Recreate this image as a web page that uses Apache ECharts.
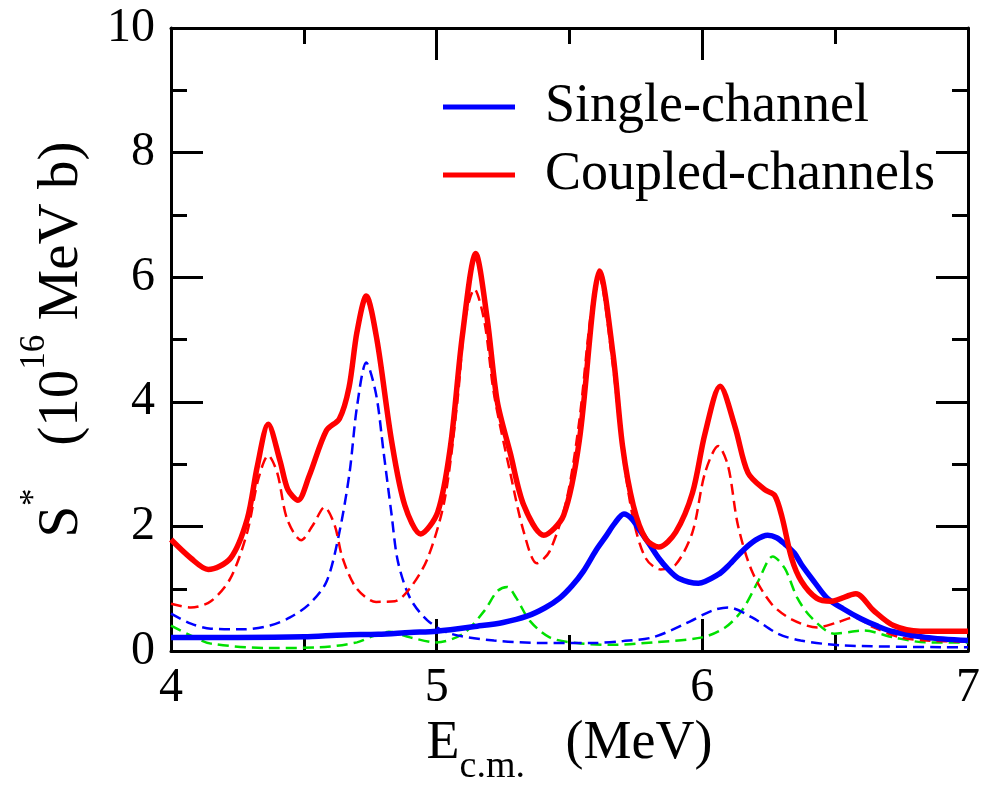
<!DOCTYPE html>
<html><head><meta charset="utf-8">
<script src="https://cdn.jsdelivr.net/npm/echarts@6/dist/echarts.min.js"></script>
<style>html,body{margin:0;padding:0;background:#fff}#c{width:983px;height:791px}</style>
</head><body><div id="c"></div>
<script>
const FONT = "'Liberation Serif','Times New Roman',serif";

const xTicks = [4, 5, 6, 7];
const yTicks = [0, 2, 4, 6, 8, 10];

// Single-channel (solid blue)
const singleChannel = [[4.0,0.22],[4.25,0.22],[4.5,0.23],[4.65,0.26],[4.78,0.27],[4.90,0.30],[5.0,0.32],[5.153,0.40],[5.25,0.46],[5.34,0.56],[5.41,0.70],[5.463,0.85],[5.51,1.05],[5.552,1.28],[5.60,1.62],[5.638,1.85],[5.67,2.05],[5.705,2.20],[5.735,2.12],[5.761,1.96],[5.80,1.72],[5.836,1.49],[5.87,1.32],[5.91,1.17],[5.985,1.09],[6.06,1.23],[6.10,1.38],[6.149,1.60],[6.20,1.78],[6.246,1.86],[6.28,1.82],[6.31,1.72],[6.347,1.57],[6.373,1.39],[6.42,1.12],[6.47,0.85],[6.53,0.68],[6.597,0.52],[6.66,0.40],[6.72,0.31],[6.84,0.22],[7.0,0.17]];

// Coupled-channels (solid red)
const coupledChannels = [[4.00,1.79],[4.075,1.49],[4.14,1.31],[4.224,1.49],[4.287,2.12],[4.325,2.97],[4.366,3.64],[4.41,3.06],[4.44,2.59],[4.478,2.42],[4.52,2.81],[4.585,3.54],[4.634,3.73],[4.67,4.23],[4.70,5.12],[4.735,5.70],[4.775,5.0],[4.83,3.38],[4.88,2.34],[4.94,1.88],[5.004,2.23],[5.052,3.29],[5.097,5.07],[5.147,6.38],[5.19,5.34],[5.228,4.01],[5.277,3.18],[5.328,2.34],[5.403,1.86],[5.478,2.18],[5.537,3.38],[5.59,5.59],[5.612,6.10],[5.664,4.76],[5.70,3.28],[5.74,2.34],[5.787,1.80],[5.836,1.67],[5.90,1.91],[5.963,2.54],[6.01,3.49],[6.067,4.25],[6.123,3.60],[6.172,2.86],[6.235,2.59],[6.272,2.50],[6.30,2.15],[6.336,1.49],[6.373,1.12],[6.43,0.85],[6.485,0.80],[6.578,0.92],[6.645,0.65],[6.72,0.41],[6.82,0.32],[7.0,0.32]];

// Coupled-channels components (dashed)
const coupledRed = [[4.0,0.76],[4.075,0.70],[4.15,0.80],[4.224,1.17],[4.287,1.91],[4.328,2.75],[4.366,3.14],[4.40,2.86],[4.437,2.12],[4.49,1.78],[4.534,2.02],[4.578,2.31],[4.616,2.02],[4.646,1.49],[4.698,1.01],[4.772,0.79],[4.843,0.80],[4.90,1.01],[4.966,1.49],[5.03,2.43],[5.078,4.01],[5.108,5.34],[5.142,5.81],[5.18,5.28],[5.216,4.12],[5.277,2.86],[5.328,1.91],[5.377,1.41],[5.425,1.60],[5.489,2.43],[5.537,3.70],[5.58,5.40],[5.61,6.02],[5.66,4.70],[5.70,3.20],[5.74,2.12],[5.787,1.49],[5.843,1.31],[5.90,1.39],[5.963,1.91],[6.01,2.86],[6.06,3.29],[6.097,2.97],[6.134,2.02],[6.187,1.28],[6.26,0.76],[6.336,0.51],[6.433,0.38],[6.508,0.46],[6.571,0.54],[6.645,0.38],[6.746,0.22],[6.843,0.17],[7.0,0.15]];
const coupledBlue = [[4.0,0.60],[4.075,0.44],[4.15,0.36],[4.27,0.35],[4.373,0.41],[4.448,0.54],[4.522,0.76],[4.586,1.12],[4.634,1.91],[4.672,2.86],[4.70,3.92],[4.735,4.63],[4.772,4.12],[4.80,3.20],[4.83,2.20],[4.854,1.44],[4.90,0.85],[4.966,0.49],[5.052,0.28],[5.216,0.17],[5.403,0.13],[5.59,0.13],[5.70,0.16],[5.813,0.22],[5.936,0.44],[6.037,0.65],[6.097,0.70],[6.187,0.54],[6.284,0.28],[6.37,0.17],[6.534,0.09],[7.0,0.06]];
const coupledGreen = [[4.0,0.41],[4.075,0.25],[4.15,0.12],[4.373,0.05],[4.56,0.06],[4.70,0.14],[4.76,0.24],[4.82,0.31],[4.90,0.22],[5.0,0.14],[5.10,0.28],[5.18,0.65],[5.228,0.96],[5.265,1.03],[5.30,0.85],[5.35,0.49],[5.425,0.22],[5.526,0.13],[5.65,0.10],[5.813,0.14],[6.0,0.22],[6.086,0.38],[6.149,0.65],[6.21,1.12],[6.265,1.52],[6.31,1.33],[6.358,0.85],[6.41,0.54],[6.496,0.28],[6.56,0.31],[6.608,0.33],[6.72,0.22],[6.843,0.14],[7.0,0.14]];

const chart = echarts.init(document.getElementById('c'), null, {renderer: 'canvas'});

function axisCommon(showLabel, isX) {
  return {
    type: 'value',
    axisLine: {show: true, onZero: false, lineStyle: {color: '#000', width: 3}},
    axisTick: {show: true, inside: true, length: 32, lineStyle: {color: '#000', width: 3}},
    minorTick: {show: true, splitNumber: 2, length: 16, lineStyle: {color: '#000', width: 3}},
    splitLine: {show: false},
    minorSplitLine: {show: false},
    axisLabel: {show: showLabel, color: '#000', fontFamily: FONT, fontSize: 48, margin: isX ? 13 : 16,
      formatter: v => (isX ? xTicks : yTicks).includes(v) ? String(v) : ''}
  };
}

const xMain = Object.assign(axisCommon(true, true), {min: 4, max: 7, interval: 1, position: 'bottom',
  name: '{m|E}{sub|c.m.}{m|   (MeV)}', nameLocation: 'middle', nameGap: 47,
  nameTextStyle: {rich: {
    m: {fontFamily: FONT, fontSize: 54, color: '#000', lineHeight: 84},
    sub: {fontFamily: FONT, fontSize: 38, color: '#000', verticalAlign: 'bottom', lineHeight: 38}
  }}});
const xTop = Object.assign(axisCommon(false, true), {min: 4, max: 7, interval: 1, position: 'top'});
const yMain = Object.assign(axisCommon(true, false), {min: 0, max: 10, interval: 2, position: 'left',
  name: '{m|S}{sup|*}{m|   (10}{sup|16}{m| MeV b)}', nameLocation: 'middle', nameGap: 64,
  nameTextStyle: {padding: [0, 0, 0, 0], rich: {
    m: {fontFamily: FONT, fontSize: 57, color: '#000', lineHeight: 90},
    sup: {fontFamily: FONT, fontSize: 35, color: '#000', verticalAlign: 'top', lineHeight: 35}
  }}});
const yRight = Object.assign(axisCommon(false, false), {min: 0, max: 10, interval: 2, position: 'right'});

function lineSeries(name, data, color, width, dashed, z) {
  return {
    name, type: 'line', data, xAxisIndex: 0, yAxisIndex: 0,
    symbol: 'none', showSymbol: false, smooth: 0.3,
    lineStyle: {color, width, type: dashed ? [11, 6] : 'solid'},
    itemStyle: {color}, z, animation: false
  };
}

chart.setOption({
  animation: false,
  backgroundColor: '#fff',
  grid: {left: 171, right: 8, top: 28, bottom: 130},
  xAxis: [xMain, xTop],
  yAxis: [yMain, yRight],
  legend: {
    data: ['Single-channel', 'Coupled-channels'],
    orient: 'vertical', left: 438, top: 75, itemGap: 14,
    icon: 'rect', itemWidth: 72, itemHeight: 5,
    textStyle: {fontFamily: FONT, fontSize: 54, color: '#000', padding: [0, 0, 0, 25]}
  },
  series: [
    lineSeries('cc-green', coupledGreen, '#00e000', 2.5, true, 2),
    lineSeries('cc-blue', coupledBlue, '#0000ff', 2.5, true, 2),
    lineSeries('cc-red', coupledRed, '#ff0000', 2.5, true, 2),
    lineSeries('Single-channel', singleChannel, '#0000ff', 5.5, false, 3),
    lineSeries('Coupled-channels', coupledChannels, '#ff0000', 5.5, false, 4)
  ]
});
</script></body></html>
